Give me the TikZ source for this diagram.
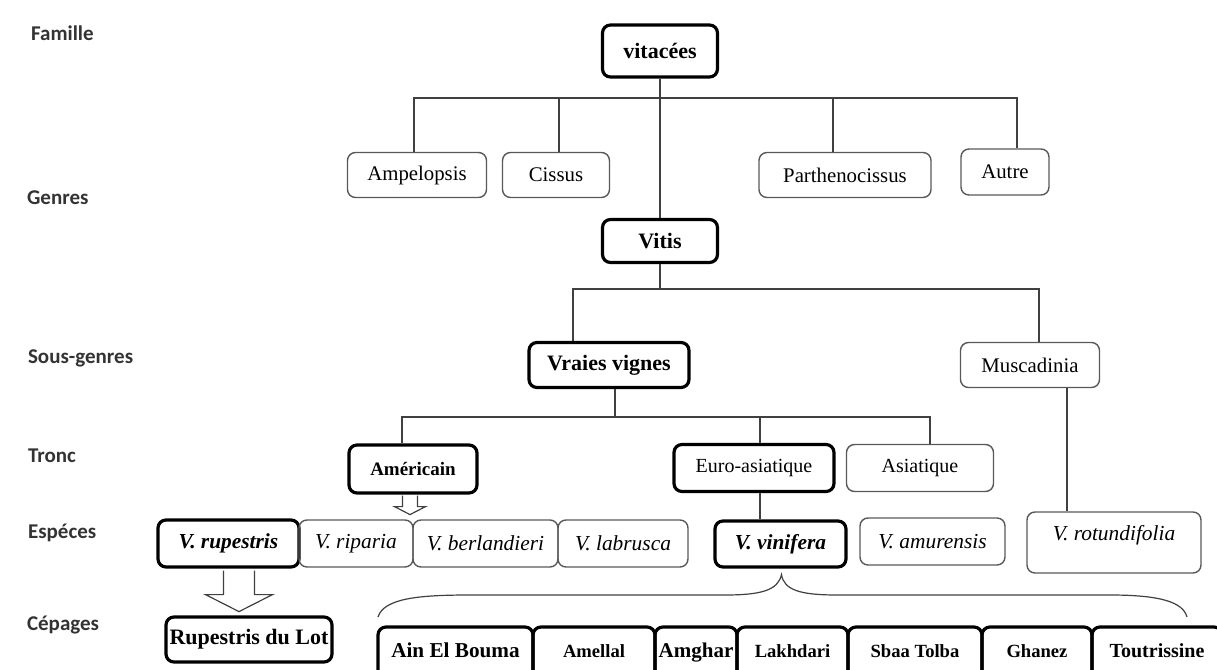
\documentclass[tikz,border=0pt]{standalone}
\usepackage{fontspec}
\setmainfont{Liberation Serif}
\newfontfamily\lvlfont{Carlito}
\usetikzlibrary{calc}

\tikzset{
  lvl/.style={anchor=west, text=black!80, font=\lvlfont\bfseries\fontsize{10.5}{12}\selectfont},
  thinbox/.style={draw=black!65, line width=0.7pt, rounded corners=4pt, inner sep=0pt, font=\fontsize{10.4}{12}\selectfont},
  thickbox/.style={draw=black, line width=1.6pt, rounded corners=4pt, inner sep=0pt},
  spec/.style={font=\fontsize{10.7}{12}\selectfont\itshape},
  cep/.style={thickbox, minimum height=31.5pt, text height=7pt, text depth=8pt, font=\fontsize{10}{12}\selectfont\bfseries},
  link/.style={draw=black!75, line width=0.6pt},
  hollow/.style={draw=black!75, fill=white, line width=0.6pt, line join=miter}
}

\begin{document}
\begin{tikzpicture}[x=0.5pt, y=-0.5pt]
  \useasboundingbox (0,0) rectangle (1217,670);

  % level names
  \node[lvl] (lfam) at (24,33) {Famille};
  \node[lvl] (lgen) at (20,198) {Genres};
  \node[lvl] (lsg) at (21,358) {Sous-genres};
  \node[lvl] (ltr) at (21,456) {Tronc};
  \node[lvl] (lesp) at (21,533) {Espéces};
  \node[lvl] (lcep) at (20,625) {Cépages};

  % family and genera
  \node[thickbox, minimum width=57.5pt, minimum height=26pt, font=\fontsize{11}{13}\selectfont\bfseries] (vit) at (660,51) {vitacées};
  \node[thinbox, minimum width=69.5pt, minimum height=22.5pt] (amp) at (417,175) {Ampelopsis};
  \node[thinbox, minimum width=53.5pt, minimum height=22.5pt] (cis) at (556,175) {Cissus};
  \node[thinbox, minimum width=86pt, minimum height=22.5pt] (par) at (845,175) {Parthenocissus};
  \node[thinbox, minimum width=44pt, minimum height=23pt] (aut) at (1005,172) {Autre};
  \node[thickbox, minimum width=57.5pt, minimum height=21.5pt, font=\fontsize{11}{13}\selectfont\bfseries] (vitis) at (660,241) {Vitis};

  % sub-genera
  \node[thickbox, minimum width=80pt, minimum height=22.5pt, font=\fontsize{11}{13}\selectfont\bfseries] (vv) at (609,365) {Vraies vignes};
  \node[thinbox, minimum width=69.5pt, minimum height=22.5pt] (mus) at (1030,365) {Muscadinia};

  % trunks
  \node[thickbox, minimum width=64pt, minimum height=24pt, font=\fontsize{9.5}{11}\selectfont\bfseries] (am) at (413,469) {Américain};
  \node[thickbox, minimum width=80pt, minimum height=23.5pt, font=\fontsize{10}{12}\selectfont] (eu) at (754,468) {Euro-asiatique};
  \node[thinbox, minimum width=73.5pt, minimum height=23.5pt, font=\fontsize{10}{12}\selectfont] (asi) at (920,468) {Asiatique};

  % species
  \node[thickbox, spec, minimum width=70.5pt, minimum height=23.5pt] (rup) at (228.5,543.5) {\textbf{V. rupestris}};
  \node[thinbox, spec, minimum width=57pt, minimum height=23.5pt] (rip) at (356,543.5) {V. riparia};
  \node[thinbox, spec, minimum width=72.5pt, minimum height=23.5pt] (ber) at (485.5,543.5) {V. berlandieri};
  \node[thinbox, spec, minimum width=65pt, minimum height=23.5pt] (lab) at (623,543.5) {V. labrusca};
  \node[thickbox, spec, minimum width=65.5pt, minimum height=23pt] (vin) at (780.5,544) {\textbf{V. vinifera}};
  \node[thinbox, spec, minimum width=72.5pt, minimum height=23.5pt] (amu) at (932.5,541.5) {V. amurensis};
  \node[thinbox, spec, minimum width=87pt, minimum height=30.5pt, text height=7pt, text depth=9pt] (rot) at (1114,542.5) {V. rotundifolia};

  % cultivars
  \node[thickbox, minimum width=83pt, minimum height=22.5pt, font=\fontsize{11}{13}\selectfont\bfseries] (lot) at (249,639.5) {Rupestris du Lot};
  \node[cep, minimum width=77.5pt, font=\fontsize{10.6}{12}\selectfont\bfseries] (ain) at (455.5,658.5) {Ain El Bouma};
  \node[cep, minimum width=61pt, font=\fontsize{9.3}{11}\selectfont\bfseries] (ame) at (594,658.5) {Amellal};
  \node[cep, minimum width=41pt, font=\fontsize{10.5}{12}\selectfont\bfseries] (amg) at (696,658.5) {Amghar};
  \node[cep, minimum width=55.5pt, font=\fontsize{9.3}{11}\selectfont\bfseries] (lak) at (792.5,658.5) {Lakhdari};
  \node[cep, minimum width=67pt, font=\fontsize{9.3}{11}\selectfont\bfseries] (sba) at (915,658.5) {Sbaa Tolba};
  \node[cep, minimum width=55pt, font=\fontsize{9.3}{11}\selectfont\bfseries] (gha) at (1037,658.5) {Ghanez};
  \node[cep, minimum width=65pt] (tou) at (1157,658.5) {Toutrissine};

  % tree lines
  \coordinate (bus1) at (0,98);
  \coordinate (bus2) at (0,289);
  \coordinate (bus3) at (0,417);
  \draw[link] (vit.south) -- (vitis.north);
  \draw[link] ([xshift=-1.5pt]amp.north) |- ([xshift=6pt]aut.north |- bus1) -- ([xshift=6pt]aut.north);
  \draw[link] ([xshift=1.5pt]cis.north) -- ([xshift=1.5pt]cis.north |- bus1);
  \draw[link] ([xshift=-6pt]par.north) -- ([xshift=-6pt]par.north |- bus1);
  \draw[link] ([xshift=-18pt]vv.north) |- (vitis.south |- bus2) -| ([xshift=4.5pt]mus.north);
  \draw[link] (vitis.south) -- (vitis.south |- bus2);
  \draw[link] ([xshift=-5.5pt]am.north) |- ([xshift=5pt]asi.north |- bus3) -- ([xshift=5pt]asi.north);
  \draw[link] ([xshift=3pt]vv.south) -- ([xshift=3pt]vv.south |- bus3);
  \draw[link] ([xshift=3pt]eu.north) -- ([xshift=3pt]eu.north |- bus3);
  \draw[link] ([xshift=3pt]eu.south) -- ([xshift=3pt]eu.south |- vin.north);
  \draw[link] ([xshift=18.5pt]mus.south) -- ([xshift=18.5pt]mus.south |- rot.north);

  % hollow arrows
  \draw[hollow] ($(am.south)+(-10.5,1)$) -- ($(am.south)+(-10.5,12)$) -- ($(am.south)+(-18.5,12)$) -- ($(am.south)+(-3,20)$) -- ($(am.south)+(12.5,12)$) -- ($(am.south)+(4.5,12)$) -- ($(am.south)+(4.5,1)$);
  \draw[hollow] ($(rup.south)+(-5,2)$) -- ($(rup.south)+(-5,26)$) -- ($(rup.south)+(-23,26)$) -- ($(rup.south)+(10.5,43)$) -- ($(rup.south)+(44,26)$) -- ($(rup.south)+(26,26)$) -- ($(rup.south)+(26,2)$);

  % brace over the cultivars
  \coordinate (brl) at (378,617);
  \coordinate (brr) at (1187,617);
  \coordinate (brt) at ($(vin.south)+(1,6)$);
  \draw[link] (brl) .. controls (384,598) and (420,595) .. (470,595) -- (725,595) .. controls (762,595) and (778,590) .. (brt) .. controls (784,590) and (800,595) .. (837,595) -- (1110,595) .. controls (1160,595) and (1183,602) .. (brr);
\end{tikzpicture}
\end{document}
